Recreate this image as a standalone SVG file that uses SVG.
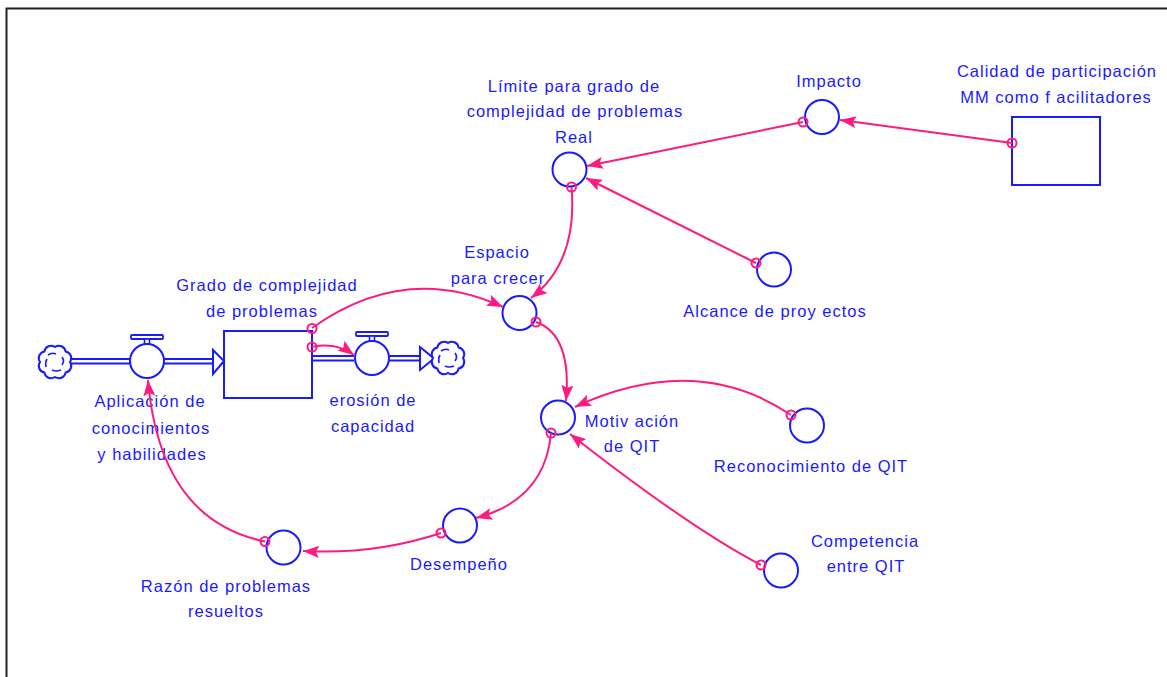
<svg xmlns="http://www.w3.org/2000/svg" width="1167" height="677" viewBox="0 0 1167 677">
  <style>
    .lbl { font-family: "Liberation Sans", Arial, sans-serif; font-size: 16.5px; fill: #1a1aff; letter-spacing: 1px; text-anchor: middle; }
    .aux { fill: #ffffff; stroke: #1a1aff; stroke-width: 2; }
    .lvl { fill: #ffffff; stroke: #1a1aff; stroke-width: 2; }
    .pipe { fill: none; stroke: #1a1aff; stroke-width: 1.8; }
    .flowhead { fill: #ffffff; stroke: #1a1aff; stroke-width: 2; stroke-linejoin: miter; }
    .link { fill: none; stroke: #ff1a7f; stroke-width: 2; marker-end: url(#ah); }
    .tail { fill: none; stroke: #ff1a7f; stroke-width: 2; }
    .frame { fill: none; stroke: #222222; stroke-width: 2; }
  </style>
  <defs>
    <marker id="ah" markerUnits="userSpaceOnUse" markerWidth="16" markerHeight="12" refX="16" refY="6" orient="auto">
      <path d="M0,0 L16,6 L0,12 L3,6 z" fill="#ff1a7f"/>
    </marker>
    <!-- source / sink cloud -->
    <g id="cloud">
      <path d="M15,0 A6.8,6.8 0 0 1 10.6,10.6 A6.8,6.8 0 0 1 0,15 A6.8,6.8 0 0 1 -10.6,10.6 A6.8,6.8 0 0 1 -15,0 A6.8,6.8 0 0 1 -10.6,-10.6 A6.8,6.8 0 0 1 0,-15 A6.8,6.8 0 0 1 10.6,-10.6 A6.8,6.8 0 0 1 15,0 z" fill="#ffffff" stroke="#1a1aff" stroke-width="2"/>
      <path d="M-7,-7 Q-3,-10 1,-8 M7,-5 Q10,-1 7,3 M6,8 Q1,10 -3,8 M-9,5 Q-10,0 -8,-3" fill="none" stroke="#1a1aff" stroke-width="1.6"/>
    </g>
    <!-- flow valve with handle -->
    <g id="valve">
      <rect x="-16" y="-26" width="32" height="4" rx="1" fill="#ffffff" stroke="#1a1aff" stroke-width="1.8"/>
      <rect x="-2.5" y="-22" width="5" height="5" fill="#ffffff" stroke="#1a1aff" stroke-width="1.6"/>
      <circle cx="0" cy="0" r="17" class="aux"/>
    </g>
  </defs>

  <rect width="1167" height="677" fill="#ffffff"/>
  <path class="frame" d="M6.5,677 V8.5 H1167"/>

  <!-- stock -->
  <g id="grado-complejidad">
    <rect class="lvl" x="224" y="331" width="88" height="67"/>
    <text class="lbl" x="267" y="291">Grado de complejidad</text>
    <text class="lbl" x="262" y="317">de problemas</text>
  </g>

  <g id="calidad-participacion">
    <rect class="lvl" x="1012" y="117" width="88" height="68"/>
    <text class="lbl" x="1057" y="77">Calidad de participación</text>
    <text class="lbl" x="1056" y="103">MM como f acilitadores</text>
  </g>

  <!-- inflow -->
  <g id="aplicacion">
    <use href="#cloud" x="55" y="362"/>
    <path class="pipe" d="M70,359 H130 M70,363.5 H130 M164,359 H213 M164,363.5 H213"/>
    <path class="flowhead" d="M213,350 L224,361 L213,374 z"/>
    <use href="#valve" x="147" y="361"/>
    <text class="lbl" x="150" y="407">Aplicación de</text>
    <text class="lbl" x="151" y="434">conocimientos</text>
    <text class="lbl" x="152" y="460">y  habilidades</text>
  </g>

  <!-- outflow -->
  <g id="erosion">
    <path class="pipe" d="M313,356 H354 M313,360.5 H354 M389,356 H420 M389,360.5 H420"/>
    <path class="flowhead" d="M420,347 L434,358.5 L420,370 z"/>
    <use href="#cloud" x="448" y="358"/>
    <use href="#valve" x="372" y="358"/>
    <text class="lbl" x="373" y="406">erosión de</text>
    <text class="lbl" x="373" y="432">capacidad</text>
  </g>

  <g id="impacto">
    <circle class="aux" cx="822" cy="117" r="17"/>
    <text class="lbl" x="829" y="87">Impacto</text>
  </g>

  <g id="limite">
    <circle class="aux" cx="569.5" cy="169.5" r="17"/>
    <text class="lbl" x="574" y="92">Límite para grado de</text>
    <text class="lbl" x="575" y="117">complejidad de problemas</text>
    <text class="lbl" x="574" y="143">Real</text>
  </g>

  <g id="alcance">
    <circle class="aux" cx="774" cy="269.5" r="17"/>
    <text class="lbl" x="775" y="317">Alcance de proy ectos</text>
  </g>

  <g id="espacio">
    <circle class="aux" cx="519.5" cy="313" r="17"/>
    <text class="lbl" x="497" y="258">Espacio</text>
    <text class="lbl" x="498" y="284">para crecer</text>
  </g>

  <g id="motivacion">
    <circle class="aux" cx="558" cy="417.5" r="17"/>
    <text class="lbl" x="632" y="427">Motiv ación</text>
    <text class="lbl" x="632" y="452">de QIT</text>
  </g>

  <g id="reconocimiento">
    <circle class="aux" cx="807" cy="425.5" r="17"/>
    <text class="lbl" x="811" y="472">Reconocimiento de QIT</text>
  </g>

  <g id="competencia">
    <circle class="aux" cx="781" cy="570.5" r="17"/>
    <text class="lbl" x="865" y="547">Competencia</text>
    <text class="lbl" x="866" y="572">entre QIT</text>
  </g>

  <g id="desempeno">
    <circle class="aux" cx="460" cy="525.5" r="17"/>
    <text class="lbl" x="459" y="570">Desempeño</text>
  </g>

  <g id="razon">
    <circle class="aux" cx="283.5" cy="547.5" r="17"/>
    <text class="lbl" x="226" y="592">Razón de problemas</text>
    <text class="lbl" x="226" y="617">resueltos</text>
  </g>

  <!-- causal links -->
  <g id="links">
    <path class="link" d="M1012,143 L840,120"/>
    <path class="link" d="M803,122 L587,166"/>
    <path class="link" d="M756,263 L586,178"/>
    <path class="link" d="M571.5,187 Q578,262 531,298"/>
    <path class="link" d="M312,328 Q405,262 503,307"/>
    <path class="link" d="M312,347 Q336,342 354,355"/>
    <path class="link" d="M536,322 Q572,335 566,401"/>
    <path class="link" d="M791,415 Q696,351 575,407"/>
    <path class="link" d="M761,565 Q690,528 570,434"/>
    <path class="link" d="M551,433 Q545,500 476,518"/>
    <path class="link" d="M441,533 Q374.5,555 303,551"/>
    <path class="link" d="M265,541.5 Q160,520 148,380"/>

    <circle class="tail" cx="1012" cy="143" r="4.5"/>
    <circle class="tail" cx="803" cy="122" r="4.5"/>
    <circle class="tail" cx="756" cy="263" r="4.5"/>
    <circle class="tail" cx="571.5" cy="187" r="4.5"/>
    <circle class="tail" cx="312" cy="328.5" r="4.5"/>
    <circle class="tail" cx="312" cy="347" r="4.5"/>
    <circle class="tail" cx="536" cy="322" r="4.5"/>
    <circle class="tail" cx="791" cy="415" r="4.5"/>
    <circle class="tail" cx="761" cy="565" r="4.5"/>
    <circle class="tail" cx="551" cy="433" r="4.5"/>
    <circle class="tail" cx="441" cy="533" r="4.5"/>
    <circle class="tail" cx="265" cy="541.5" r="4.5"/>
  </g>
</svg>
